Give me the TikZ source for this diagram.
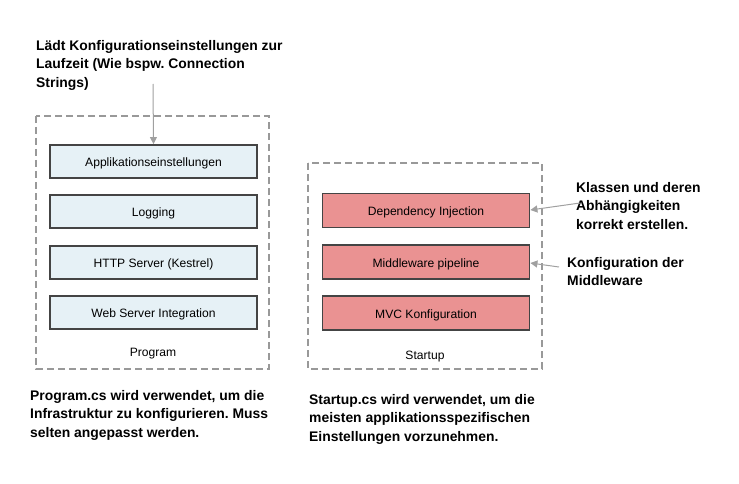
\documentclass[tikz,border=0pt]{standalone}
\usepackage{fontspec}
\setmainfont{Liberation Sans}
\frenchspacing
\usetikzlibrary{arrows.meta}
\definecolor{boxline}{HTML}{444444}
\definecolor{dashline}{HTML}{999999}
\definecolor{bluefill}{HTML}{E6F1F6}
\definecolor{redfill}{HTML}{EA9292}
\definecolor{arrowgray}{HTML}{A0A0A0}
\tikzset{
  container/.style={draw=dashline, line width=1.6pt, dash pattern=on 7pt off 4pt},
  bluebox/.style={draw=boxline, line width=1.8pt, fill=bluefill, minimum width=207pt, minimum height=33pt, inner sep=0pt, text height=11pt, text depth=1pt, font=\fontsize{12.1}{14}\selectfont},
  redbox/.style={draw=boxline, line width=1.8pt, fill=redfill, minimum width=207pt, minimum height=34pt, inner sep=0pt, text height=11pt, text depth=1pt, font=\fontsize{12.1}{14}\selectfont},
  note/.style={font=\fontsize{13.9}{18.5}\selectfont\bfseries, align=left, anchor=north west, inner sep=0pt},
  lbl/.style={font=\fontsize{12.1}{14}\selectfont, inner sep=0pt},
  conn/.style={draw=arrowgray, line width=1pt, -{Triangle[length=7pt,width=7pt]}}
}
\begin{document}
\begin{tikzpicture}[x=1pt,y=-1pt]
\useasboundingbox (0,0) rectangle (739,484);
% containers
\draw[container] (36,116) rectangle (269,369);
\draw[container] (308,163) rectangle (542,369);
% program boxes
\node[bluebox] (app) at (153.5,161.5) {Applikationseinstellungen};
\node[bluebox] (log) at (153.5,211.5) {Logging};
\node[bluebox] (http) at (153.5,262.5) {HTTP Server (Kestrel)};
\node[bluebox] (web) at (153.5,312.5) {Web Server Integration};
\node[lbl] (prog) at (153,354) {Program};
% startup boxes
\node[redbox] (di) at (426,210.5) {Dependency Injection};
\node[redbox] (mw) at (426,262) {Middleware pipeline};
\node[redbox] (mvc) at (426,313) {MVC Konfiguration};
\node[lbl] (start) at (425,357) {Startup};
% notes
\node[note] (top) at (36,40) {Lädt Konfigurationseinstellungen zur\\Laufzeit (Wie bspw. Connection\\Strings)};
\node[note] (dinote) at (576,182) {Klassen und deren\\Abhängigkeiten\\korrekt erstellen.};
\node[note] (mwnote) at (567,257) {Konfiguration der\\Middleware};
\node[note] (prognote) at (30,390) {Program.cs wird verwendet, um die\\Infrastruktur zu konfigurieren. Muss\\selten angepasst werden.};
\node[note] (startnote) at (309,394) {Startup.cs wird verwendet, um die\\meisten applikationsspezifischen\\Einstellungen vorzunehmen.};
% connectors
\coordinate (topstart) at (153,84);
\coordinate (distart) at (580,203);
\coordinate (mwstart) at (559,267);
\draw[conn] (topstart) -- (app.north);
\draw[conn] (distart) -- (di.east |- 0,210);
\draw[conn] (mwstart) -- (mw.east |- 0,263);
\end{tikzpicture}
\end{document}
